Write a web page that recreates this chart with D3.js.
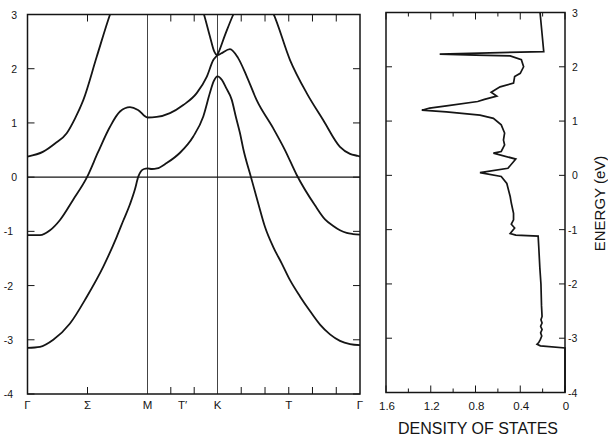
<!DOCTYPE html>
<html><head><meta charset="utf-8">
<script src="https://cdn.jsdelivr.net/npm/d3@7"></script>
<style>html,body{margin:0;padding:0;background:#fff;} svg{display:block;}</style>
</head><body><svg id="c" width="608" height="437"></svg>
<script>
// ---- data ----
const symK = [0, 1.732, 2.732, 4.732];                 // Γ, M, K, Γ along path
const kLabelPos = [0, 0.866, 1.732, 2.232, 2.732, 3.732, 4.732];
const kLabels = ["Γ", "Σ", "M", "T′", "K", "T", "Γ"];
const kTicks = [0.866, 2.065, 2.399, 3.065, 3.399, 3.732, 4.065, 4.399];
const kLines = [1.732, 2.732];
const energyTicks = [-4, -3, -2, -1, 0, 1, 2, 3];
const dosMajor = [0, 0.4, 0.8, 1.2, 1.6];
const dosMinor = [0.2, 0.6, 1.0, 1.4];
const dosLabels = ["0", "0.4", "0.8", "1.2", "1.6"];

const bandA = [[0,-3.15],[0.180,-3.13],[0.372,-3.00],[0.613,-2.70],[0.854,-2.21],[1.094,-1.65],[1.288,-1.10],[1.383,-0.80],[1.479,-0.50],[1.552,-0.22],[1.599,0.01],[1.638,0.11],[1.682,0.15],[1.732,0.16],[1.796,0.15],[1.868,0.16],[2.006,0.26],[2.196,0.45],[2.386,0.75],[2.529,1.12],[2.625,1.56],[2.675,1.76],[2.732,1.86],[2.795,1.79],[2.851,1.65],[2.931,1.43],[2.992,1.10],[3.048,0.81],[3.094,0.52],[3.202,0.0],[3.305,-0.49],[3.399,-0.92],[3.515,-1.29],[3.633,-1.59],[3.750,-1.90],[3.890,-2.20],[4.030,-2.47],[4.171,-2.72],[4.311,-2.90],[4.451,-3.02],[4.592,-3.08],[4.732,-3.10]];
const bandB = [[0,-1.07],[0.180,-1.07],[0.325,-0.98],[0.469,-0.79],[0.657,-0.42],[0.859,0.0],[1.018,0.46],[1.191,0.93],[1.335,1.21],[1.479,1.29],[1.595,1.24],[1.732,1.10],[1.863,1.11],[2.053,1.18],[2.243,1.33],[2.435,1.55],[2.578,1.85],[2.672,2.16],[2.732,2.26],[2.837,2.62],[2.954,3.0],[3.230,3.55],[3.515,3.02],[3.750,2.16],[3.984,1.55],[4.217,1.05],[4.451,0.56],[4.592,0.43],[4.708,0.39],[4.732,0.38]];
const bandC = [[0,0.38],[0.228,0.47],[0.397,0.62],[0.566,0.81],[0.685,1.08],[0.805,1.42],[0.999,2.22],[1.191,3.0],[1.479,3.9],[1.732,4.2],[2.125,4.0],[2.539,3.0],[2.625,2.59],[2.682,2.33],[2.732,2.25],[2.781,2.28],[2.907,2.36],[3.020,2.20],[3.142,1.86],[3.282,1.42],[3.515,0.90],[3.679,0.50],[3.844,0.04],[4.100,-0.52],[4.241,-0.78],[4.357,-0.90],[4.451,-0.98],[4.545,-1.03],[4.634,-1.05],[4.732,-1.06]];
const bands = [bandA, bandB, bandC];

// density of states: [energy, DOS]
const dos = [[3.0,0.223],[2.28,0.19],[2.235,1.12],[2.215,0.80],[2.20,0.49],[2.13,0.39],[2.00,0.37],[1.88,0.40],[1.82,0.45],[1.70,0.46],[1.63,0.58],[1.58,0.62],[1.53,0.66],[1.46,0.61],[1.40,0.72],[1.36,0.78],[1.28,1.06],[1.24,1.21],[1.20,1.28],[1.17,1.06],[1.11,0.76],[1.05,0.64],[0.93,0.57],[0.78,0.54],[0.65,0.55],[0.56,0.54],[0.44,0.57],[0.41,0.64],[0.30,0.44],[0.13,0.51],[0.05,0.76],[-0.02,0.57],[-0.15,0.52],[-0.39,0.49],[-0.51,0.48],[-0.70,0.46],[-0.82,0.46],[-0.90,0.48],[-0.97,0.45],[-1.07,0.49],[-1.10,0.44],[-1.12,0.24],[-1.3,0.235],[-1.7,0.225],[-2.0,0.215],[-2.4,0.21],[-2.6,0.205],[-2.66,0.215],[-2.72,0.205],[-2.78,0.218],[-2.84,0.205],[-2.9,0.218],[-2.96,0.208],[-3.02,0.22],[-3.08,0.235],[-3.11,0.25],[-3.14,0.22],[-3.18,0.0],[-4.0,0.0]];

// ---- layout ----
const svg = d3.select("#c");
const FONT = "'Liberation Sans', Arial, Helvetica, sans-serif";
const ink = "#151515";
const L = {x0: 27.5, x1: 360, y0: 14.5, y1: 394};
const R = {x0: 386, x1: 565, y0: 12.5, y1: 392.5};

const xK = d3.scaleLinear().domain(symK).range([L.x0, 147.5, 217.5, L.x1]);
const yL = d3.scaleLinear().domain([-4, 3]).range([L.y1, L.y0]);
const xD = d3.scaleLinear().domain([1.6, 0]).range([R.x0, R.x1]);
const yR = d3.scaleLinear().domain([-4, 3]).range([R.y1, R.y0]);

svg.append("rect").attr("width", 608).attr("height", 437).attr("fill", "#fff");
svg.append("defs").append("clipPath").attr("id", "clipL")
  .append("rect").attr("x", L.x0).attr("y", L.y0).attr("width", L.x1 - L.x0).attr("height", L.y1 - L.y0);

// ---- left panel ----
const gL = svg.append("g");
// symmetry lines
gL.selectAll("line.sym").data(kLines).enter().append("line")
  .attr("x1", d => xK(d)).attr("x2", d => xK(d)).attr("y1", L.y0).attr("y2", L.y1)
  .attr("stroke", "#444").attr("stroke-width", 1);
// Fermi level
gL.append("line").attr("x1", L.x0).attr("x2", L.x1).attr("y1", yL(0)).attr("y2", yL(0))
  .attr("stroke", ink).attr("stroke-width", 1.3);
// bands
const bandLine = d3.line().x(d => xK(d[0])).y(d => yL(d[1])).curve(d3.curveMonotoneX);
gL.append("g").attr("clip-path", "url(#clipL)").selectAll("path").data(bands).enter().append("path")
  .attr("d", bandLine).attr("fill", "none").attr("stroke", ink).attr("stroke-width", 1.8);
// frame
gL.append("rect").attr("x", L.x0).attr("y", L.y0).attr("width", L.x1 - L.x0).attr("height", L.y1 - L.y0)
  .attr("fill", "none").attr("stroke", ink).attr("stroke-width", 1.5);
// k ticks (top & bottom, inward)
kTicks.forEach(k => {
  gL.append("line").attr("x1", xK(k)).attr("x2", xK(k)).attr("y1", L.y1).attr("y2", L.y1 - 7).attr("stroke", ink).attr("stroke-width", 1);
  gL.append("line").attr("x1", xK(k)).attr("x2", xK(k)).attr("y1", L.y0).attr("y2", L.y0 + 7).attr("stroke", ink).attr("stroke-width", 1);
});
// energy ticks (left & right, inward)
energyTicks.forEach(e => {
  gL.append("line").attr("x1", L.x0).attr("x2", L.x0 + 7).attr("y1", yL(e)).attr("y2", yL(e)).attr("stroke", ink).attr("stroke-width", 1);
  gL.append("line").attr("x1", L.x1).attr("x2", L.x1 - 7).attr("y1", yL(e)).attr("y2", yL(e)).attr("stroke", ink).attr("stroke-width", 1);
});
gL.selectAll("text.ey").data(energyTicks).enter().append("text")
  .attr("x", d => d < 0 ? 13 : 17).attr("y", d => yL(d) + 4)
  .attr("text-anchor", "end").attr("font-family", FONT).attr("font-size", 10.5).attr("fill", ink)
  .text(d => String(d));
gL.selectAll("text.kl").data(kLabelPos).enter().append("text")
  .attr("x", d => xK(d)).attr("y", 409)
  .attr("text-anchor", "middle").attr("font-family", FONT).attr("font-size", 11.5).attr("fill", ink)
  .text((d, i) => kLabels[i]);

// ---- right panel (DOS) ----
const gR = svg.append("g");
const dosLine = d3.line().x(d => xD(d[1])).y(d => yR(d[0]));
gR.append("path").datum(dos).attr("d", dosLine).attr("fill", "none").attr("stroke", ink).attr("stroke-width", 1.7)
  .attr("stroke-linejoin", "miter");
gR.append("rect").attr("x", R.x0).attr("y", R.y0).attr("width", R.x1 - R.x0).attr("height", R.y1 - R.y0)
  .attr("fill", "none").attr("stroke", ink).attr("stroke-width", 1.5);
dosMajor.concat(dosMinor).forEach(v => {
  const len = dosMajor.includes(v) ? 7 : 4;
  gR.append("line").attr("x1", xD(v)).attr("x2", xD(v)).attr("y1", R.y1).attr("y2", R.y1 - len).attr("stroke", ink).attr("stroke-width", 1);
  gR.append("line").attr("x1", xD(v)).attr("x2", xD(v)).attr("y1", R.y0).attr("y2", R.y0 + len).attr("stroke", ink).attr("stroke-width", 1);
});
energyTicks.forEach(e => {
  gR.append("line").attr("x1", R.x0).attr("x2", R.x0 + 6).attr("y1", yR(e)).attr("y2", yR(e)).attr("stroke", ink).attr("stroke-width", 1);
  gR.append("line").attr("x1", R.x1).attr("x2", R.x1 - 6).attr("y1", yR(e)).attr("y2", yR(e)).attr("stroke", ink).attr("stroke-width", 1);
});
gR.selectAll("text.dl").data(dosMajor).enter().append("text")
  .attr("x", d => xD(d) + 1).attr("y", 410)
  .attr("text-anchor", "middle").attr("font-family", FONT).attr("font-size", 11.5).attr("fill", ink)
  .text((d, i) => dosLabels[i]);
gR.selectAll("text.ry").data(energyTicks).enter().append("text")
  .attr("x", d => d < 0 ? 568 : 572).attr("y", d => yR(d) + 4)
  .attr("text-anchor", "start").attr("font-family", FONT).attr("font-size", 10.5).attr("fill", ink)
  .text(d => String(d));
svg.append("text").attr("x", 478).attr("y", 433.5).attr("text-anchor", "middle")
  .attr("font-family", FONT).attr("font-size", 16).attr("fill", ink).text("DENSITY OF STATES");
svg.append("text").attr("transform", "translate(604.5,203.5) rotate(-90)").attr("text-anchor", "middle")
  .attr("font-family", FONT).attr("font-size", 15).attr("fill", ink).text("ENERGY (eV)");
</script>
</body></html>
